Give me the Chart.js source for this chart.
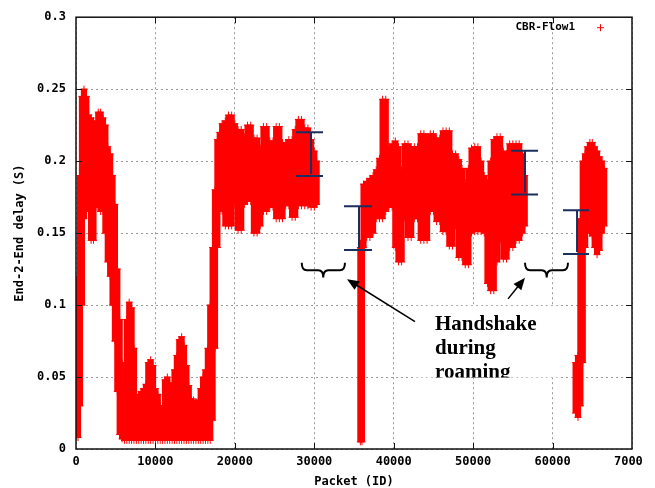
<!DOCTYPE html>
<html>
<head>
<meta charset="utf-8">
<script src="https://cdn.jsdelivr.net/npm/chart.js@4.4.1/dist/chart.umd.min.js"></script>
<style>
  html, body { margin: 0; padding: 0; background: #fff; overflow: hidden; }
  #wrap { width: 655px; height: 488px; }
  canvas { display: block; }
</style>
</head>
<body>
<div id="wrap"><canvas id="delayChart" width="643" height="488"></canvas></div>
<script>
// packet id bins with lower / upper edge of the CBR-Flow1 delay band (s)
// null = no packets received (handshake gaps)
const packetIds = [
  0, 250, 500, 750, 1000, 1300, 1600, 1900, 2200, 2500, 2800, 3100, 3400, 3700, 4000, 4300, 4600, 4900, 5200, 5500, 5800,
  6100, 6400, 6700, 7000, 7300, 7600, 7900, 8200, 8500, 8800, 9100, 9400, 9700, 10000, 10300, 10600, 10900,
  11200, 11500, 11800, 12100, 12400, 12700, 13000, 13300, 13600, 13900, 14200, 14500, 14800, 15100, 15400,
  15700, 16000, 16300, 16600, 16900, 17200, 17500, 17800, 18100, 18400, 18800, 19200, 19600, 20000, 20400,
  20800, 21200, 21600, 22000, 22400, 22800, 23200, 23600, 24000, 24400, 24800, 25200, 25600, 26000, 26400,
  26800, 27200, 27600, 28000, 28400, 28800, 29200, 29600, 30000, 30300,
  33000,
  35800, 36000, 36200, 36600, 37000, 37400, 37800, 38200, 38600, 39000, 39400, 39800, 40200, 40600, 41000,
  41400, 41800, 42200, 42600, 43000, 43400, 43800, 44200, 44600, 45000, 45400, 45800, 46200, 46600, 47000,
  47400, 47800, 48200, 48600, 49000, 49400, 49800, 50200, 50600, 51000, 51400, 51800, 52200, 52600, 53000,
  53400, 53800, 54200, 54600, 55000, 55400, 55800, 56200, 56500,
  59500,
  62900, 63200, 63500, 63800, 64100, 64400, 64700, 65000, 65300, 65600, 65900, 66200, 66500
];
const delayLow = [
  0.008, 0.008, 0.03, 0.10, 0.16, 0.17, 0.165, 0.145, 0.145, 0.168, 0.168, 0.165, 0.165, 0.15, 0.13, 0.12, 0.10, 0.075, 0.04, 0.01, 0.007,
  0.006, 0.006, 0.006, 0.006, 0.006, 0.006, 0.006, 0.006, 0.006, 0.006, 0.006, 0.006, 0.006, 0.006, 0.006, 0.006, 0.006,
  0.006, 0.006, 0.006, 0.006, 0.006, 0.006, 0.006, 0.006, 0.006, 0.006, 0.006, 0.006, 0.006, 0.006, 0.006,
  0.006, 0.006, 0.006, 0.006, 0.006, 0.02, 0.07, 0.14, 0.165, 0.165, 0.155, 0.155, 0.155, 0.17, 0.152,
  0.152, 0.17, 0.172, 0.172, 0.15, 0.15, 0.155, 0.165, 0.165, 0.168, 0.168, 0.16, 0.16, 0.16, 0.169,
  0.169, 0.161, 0.161, 0.169, 0.169, 0.169, 0.169, 0.168, 0.168, 0.17,
  null,
  0.005, 0.005, 0.14, 0.147, 0.147, 0.15, 0.16, 0.16, 0.16, 0.165, 0.168, 0.168, 0.14, 0.13, 0.13,
  0.16, 0.147, 0.147, 0.16, 0.16, 0.145, 0.145, 0.145, 0.165, 0.165, 0.158, 0.158, 0.151, 0.151, 0.141,
  0.141, 0.155, 0.133, 0.133, 0.128, 0.128, 0.15, 0.151, 0.151, 0.151, 0.15, 0.115, 0.11, 0.11, 0.13,
  0.145, 0.132, 0.132, 0.14, 0.14, 0.145, 0.145, 0.15, 0.155,
  null,
  0.025, 0.022, 0.03, 0.06, 0.14, 0.15, 0.15, 0.148, 0.14, 0.135, 0.138, 0.15, 0.155
];
const delayHigh = [
  0.07, 0.12, 0.19, 0.245, 0.25, 0.245, 0.232, 0.23, 0.228, 0.225, 0.234, 0.234, 0.23, 0.225, 0.21, 0.205, 0.19, 0.17, 0.125, 0.09, 0.06,
  0.04, 0.09, 0.102, 0.098, 0.07, 0.038, 0.035, 0.04, 0.042, 0.045, 0.06, 0.062, 0.058, 0.042, 0.038, 0.03, 0.03,
  0.048, 0.05, 0.046, 0.04, 0.055, 0.065, 0.076, 0.078, 0.072, 0.058, 0.044, 0.035, 0.034, 0.033, 0.034,
  0.042, 0.05, 0.055, 0.07, 0.1, 0.14, 0.18, 0.215, 0.22, 0.226, 0.228, 0.232, 0.232, 0.226, 0.222,
  0.222, 0.217, 0.225, 0.225, 0.216, 0.216, 0.209, 0.224, 0.224, 0.214, 0.214, 0.224, 0.224, 0.213, 0.213,
  0.215, 0.215, 0.222, 0.229, 0.229, 0.223, 0.223, 0.215, 0.207, 0.2,
  null,
  0.14, 0.145, 0.184, 0.186, 0.188, 0.19, 0.194, 0.202, 0.243, 0.243, 0.21, 0.212, 0.214, 0.21, 0.194,
  0.212, 0.212, 0.21, 0.21, 0.21, 0.219, 0.219, 0.217, 0.219, 0.219, 0.216, 0.216, 0.221, 0.221, 0.221,
  0.205, 0.205, 0.201, 0.195, 0.185, 0.195, 0.209, 0.21, 0.21, 0.2, 0.19, 0.185, 0.2, 0.215, 0.217,
  0.217, 0.207, 0.205, 0.212, 0.212, 0.212, 0.212, 0.205, 0.19,
  null,
  0.06, 0.065, 0.16, 0.2, 0.205, 0.21, 0.213, 0.213, 0.21, 0.207, 0.203, 0.2, 0.195
];
const xTicks = [0, 10000, 20000, 30000, 40000, 50000, 60000, 70000];
const yTicks = [0, 0.05, 0.1, 0.15, 0.2, 0.25, 0.3];

const RED = '#ff0000';
const NAVY = '#1b2f5e';
const monoFont = { family: '"DejaVu Sans Mono", monospace', weight: 'bold', size: 12 };

// annotations in data units
const delayBars = [
  { x: 29590, x1: 27700, x2: 31100, top: 0.220, bottom: 0.1896 },
  { x: 35630, x1: 33740, x2: 37270, top: 0.1686, bottom: 0.1382 },
  { x: 56530, x1: 54770, x2: 58170, top: 0.2073, bottom: 0.1769 },
  { x: 63080, x1: 61310, x2: 64590, top: 0.1658, bottom: 0.1354 }
];
const braces = [
  { x1: 28420, x2: 33860, xc: 31130 },
  { x1: 56530, x2: 61940, xc: 59260 }
];
const arrows = [
  { from: [42680, 0.0885], to: [34120, 0.118] },
  { from: [54390, 0.1043], to: [56530, 0.1189] }
];

const toPoints = vals => packetIds.map((p, i) => ({ x: p, y: vals[i] }));
const bandRange = packetIds.map((p, i) => ({ x: p, y: delayLow[i] === null ? null : [delayLow[i], delayHigh[i]] }));

const gnuplotDecor = {
  id: 'gnuplotDecor',
  afterDatasetsDraw(chart) {
    const { ctx, chartArea: a, scales: { x, y } } = chart;
    const X = v => x.getPixelForValue(v);
    const Y = v => y.getPixelForValue(v);
    ctx.save();

    // label box + text
    const bx = X(42680), by = Y(0.0995), bw = X(60940) - bx, bh = Y(0.0497) - by;
    ctx.fillStyle = '#fff';
    ctx.fillRect(bx, by, bw, bh);
    ctx.save();
    ctx.beginPath();
    ctx.rect(bx, by, bw, bh);
    ctx.clip();
    ctx.fillStyle = '#000';
    ctx.font = 'bold 21px "Liberation Serif", "Times New Roman", serif';
    ctx.textAlign = 'left';
    ctx.textBaseline = 'alphabetic';
    ['Handshake', 'during', 'roaming'].forEach((t, i) => {
      ctx.fillText(t, X(45200), Y(0.0829) + i * 24);
    });
    ctx.restore();

    // braces
    ctx.strokeStyle = '#000';
    ctx.lineWidth = 2;
    const yt = Y(0.1294), ym = Y(0.1242), yb = Y(0.1191);
    braces.forEach(b => {
      const x1 = X(b.x1), x2 = X(b.x2), xc = X(b.xc), r = 5;
      ctx.beginPath();
      ctx.moveTo(x1, yt);
      ctx.quadraticCurveTo(x1, ym, x1 + r, ym);
      ctx.lineTo(xc - r, ym);
      ctx.quadraticCurveTo(xc, ym, xc, yb);
      ctx.quadraticCurveTo(xc, ym, xc + r, ym);
      ctx.lineTo(x2 - r, ym);
      ctx.quadraticCurveTo(x2, ym, x2, yt);
      ctx.stroke();
    });

    // arrows
    arrows.forEach(ar => {
      const x0 = X(ar.from[0]), y0 = Y(ar.from[1]);
      const x1 = X(ar.to[0]), y1 = Y(ar.to[1]);
      const ang = Math.atan2(y1 - y0, x1 - x0), len = 12, hw = 5;
      ctx.lineWidth = 1.5;
      ctx.beginPath();
      ctx.moveTo(x0, y0);
      ctx.lineTo(x1 - Math.cos(ang) * len * 0.8, y1 - Math.sin(ang) * len * 0.8);
      ctx.stroke();
      ctx.fillStyle = '#000';
      ctx.beginPath();
      ctx.moveTo(x1, y1);
      ctx.lineTo(x1 - Math.cos(ang) * len - Math.sin(ang) * hw, y1 - Math.sin(ang) * len + Math.cos(ang) * hw);
      ctx.lineTo(x1 - Math.cos(ang) * len + Math.sin(ang) * hw, y1 - Math.sin(ang) * len - Math.cos(ang) * hw);
      ctx.closePath();
      ctx.fill();
    });

    // delay variation bars
    ctx.strokeStyle = NAVY;
    ctx.lineWidth = 2;
    delayBars.forEach(d => {
      ctx.beginPath();
      ctx.moveTo(X(d.x1), Y(d.top)); ctx.lineTo(X(d.x2), Y(d.top));
      ctx.moveTo(X(d.x1), Y(d.bottom)); ctx.lineTo(X(d.x2), Y(d.bottom));
      ctx.moveTo(X(d.x), Y(d.top)); ctx.lineTo(X(d.x), Y(d.bottom) - 2);
      ctx.stroke();
    });

    // frame and inward ticks
    ctx.strokeStyle = '#111';
    ctx.lineWidth = 1.5;
    ctx.strokeRect(a.left, a.top, a.width, a.height);
    ctx.lineWidth = 1;
    ctx.beginPath();
    xTicks.slice(1, -1).forEach(v => {
      const px = Math.round(X(v)) + 0.5;
      ctx.moveTo(px, a.bottom); ctx.lineTo(px, a.bottom - 6);
      ctx.moveTo(px, a.top); ctx.lineTo(px, a.top + 6);
    });
    yTicks.slice(1, -1).forEach(v => {
      const py = Math.round(Y(v)) + 0.5;
      ctx.moveTo(a.left, py); ctx.lineTo(a.left + 6, py);
      ctx.moveTo(a.right, py); ctx.lineTo(a.right - 6, py);
    });
    ctx.stroke();

    // key
    ctx.fillStyle = '#000';
    ctx.font = 'bold 11px "DejaVu Sans Mono", monospace';
    ctx.textAlign = 'right';
    ctx.textBaseline = 'middle';
    ctx.fillText('CBR-Flow1', a.right - 57, a.top + 10);
    ctx.strokeStyle = RED;
    ctx.beginPath();
    const kx = a.right - 31.5, ky = a.top + 10.5;
    ctx.moveTo(kx - 3.5, ky); ctx.lineTo(kx + 3.5, ky);
    ctx.moveTo(kx, ky - 3.5); ctx.lineTo(kx, ky + 3.5);
    ctx.stroke();

    ctx.restore();
  }
};

const markerStyle = {
  type: 'line',
  showLine: false,
  pointStyle: 'cross',
  pointRadius: 3.5,
  pointBorderColor: RED,
  pointBorderWidth: 1,
  borderColor: RED
};

new Chart(document.getElementById('delayChart'), {
  type: 'bar',
  data: {
    datasets: [
      Object.assign({ label: 'CBR-Flow1 low', data: toPoints(delayLow) }, markerStyle),
      Object.assign({ label: 'CBR-Flow1 high', data: toPoints(delayHigh) }, markerStyle),
      {
        type: 'bar',
        label: 'CBR-Flow1',
        data: bandRange,
        backgroundColor: RED,
        borderWidth: 0,
        barThickness: 5.5,
        borderSkipped: false
      }
    ]
  },
  options: {
    responsive: false,
    animation: false,
    layout: { padding: { top: 15, right: 11, left: 0, bottom: 0 } },
    plugins: { legend: { display: false }, tooltip: { enabled: false } },
    scales: {
      x: {
        type: 'linear',
        offset: false,
        min: 0, max: 70000,
        afterBuildTicks: s => { s.ticks = xTicks.map(v => ({ value: v })); },
        afterFit: s => { s.height = 39; s.paddingLeft = 0; s.paddingRight = 0; },
        ticks: { color: '#000', font: monoFont, padding: 6, maxRotation: 0, autoSkip: false, callback: v => String(v) },
        grid: { color: '#9a9a9a', drawTicks: false, lineWidth: 1, offset: false },
        border: { display: false, dash: [2, 3] },
        title: { display: true, text: 'Packet (ID)', color: '#000', font: Object.assign({ lineHeight: 1 }, monoFont), padding: { top: 0, bottom: 0 } }
      },
      y: {
        min: 0, max: 0.3,
        afterBuildTicks: s => { s.ticks = yTicks.map(v => ({ value: v })); },
        afterFit: s => { s.width = 76; },
        ticks: { color: '#000', font: monoFont, padding: 10, callback: v => String(+v.toFixed(2)) },
        grid: { color: '#9a9a9a', drawTicks: false, lineWidth: 1 },
        border: { display: false, dash: [2, 3] },
        title: { display: true, text: 'End-2-End delay (S)', color: '#000', font: Object.assign({ lineHeight: 1 }, monoFont), padding: { top: 14, bottom: 0 } }
      }
    }
  },
  plugins: [gnuplotDecor]
});
</script>
</body>
</html>
